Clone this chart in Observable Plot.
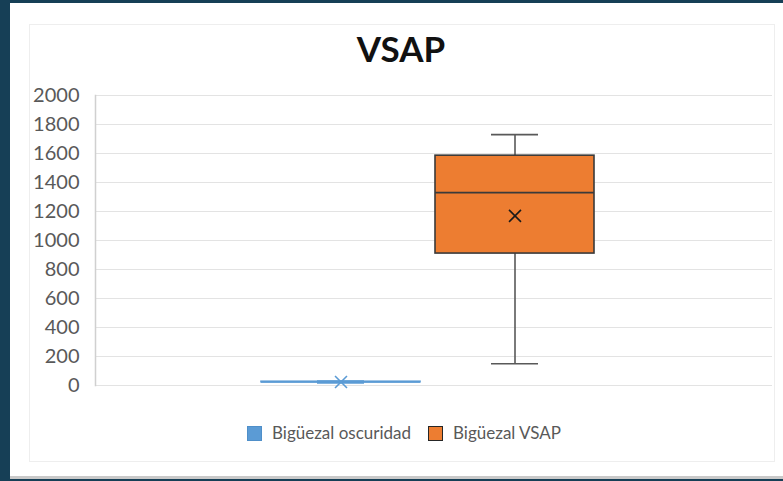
<!DOCTYPE html>
<html>
<head>
<meta charset="utf-8">
<script src="https://cdn.jsdelivr.net/npm/d3@7"></script>
<script src="https://cdn.jsdelivr.net/npm/@observablehq/plot@0.6"></script>
<style>
  html, body { margin: 0; padding: 0; }
  body { width: 783px; height: 481px; background: #163f56; position: relative; overflow: hidden; font-family: Lato, "Open Sans", sans-serif; }
  #panel { position: absolute; left: 10px; top: 3px; width: 773px; height: 473px; background: #ffffff; border-bottom: 3px solid #c9c9c9; }
  #frame { position: absolute; left: 29px; top: 24px; width: 746px; height: 438px; border: 1px solid #eeeeee; box-sizing: border-box; }
  #title { position: absolute; left: 0; width: 802px; top: 27px; text-align: center; font-size: 35px; font-weight: 700; color: #111; line-height: 1.2; }
  #chart { position: absolute; left: 0; top: 80px; }
  #legend { position: absolute; left: 247px; top: 423px; display: flex; align-items: center; font-size: 17px; color: #595959; line-height: 20px; }
  .sw { width: 15px; height: 15px; box-sizing: border-box; display: inline-block; }
</style>
</head>
<body>
<div id="panel"></div>
<div id="frame"></div>
<div id="title">VSAP</div>
<div id="chart"></div>
<div id="legend"></div>
<script>
// Data
const seriesNames = ["Bigüezal oscuridad", "Bigüezal VSAP"];
const seriesFill = ["#5B9BD5", "#ED7D31"];
const seriesStroke = ["#5B9BD5", "#3a3a3a"];
const whiskerStroke = ["#5B9BD5", "#595959"];
const meanStroke = ["#5B9BD5", "#1a1a1a"];
const minValues = [18, 150];
const q1Values = [22, 910];
const medianValues = [24, 1330];
const q3Values = [26, 1585];
const maxValues = [30, 1730];
const meanValues = [24, 1170];
const yTicks = [0, 200, 400, 600, 800, 1000, 1200, 1400, 1600, 1800, 2000];

const data = seriesNames.map((s, i) => ({
  series: s, min: minValues[i], q1: q1Values[i], median: medianValues[i],
  q3: q3Values[i], max: maxValues[i], mean: meanValues[i],
  fill: seriesFill[i], stroke: seriesStroke[i], wstroke: whiskerStroke[i], mstroke: meanStroke[i]
}));

const chart = Plot.plot({
  width: 783,
  height: 320,
  marginTop: 15,
  marginBottom: 15,
  marginLeft: 95,
  marginRight: 11,
  style: { fontFamily: "Lato, 'Open Sans', sans-serif", background: "transparent" },
  x: { type: "band", domain: seriesNames, paddingInner: 0.086, paddingOuter: 0.988, align: 0.484, axis: null },
  y: { domain: [0, 2000], axis: null },
  marks: [
    Plot.gridY(yTicks, { stroke: "#e3e3e3", strokeOpacity: 1, strokeWidth: 1 }),
    Plot.frame({ anchor: "left", stroke: "#d0d0d0", strokeWidth: 1.5 }),
    Plot.axisY(yTicks, { tickSize: 0, tickPadding: 16, fontSize: 20, color: "#595959", tickFormat: d => String(d) }),
    Plot.ruleX(data, { x: "series", y1: "q3", y2: "max", stroke: "wstroke", strokeWidth: 1.6 }),
    Plot.ruleX(data, { x: "series", y1: "min", y2: "q1", stroke: "wstroke", strokeWidth: 1.6 }),
    Plot.tickY(data, { x: "series", y: "max", stroke: "wstroke", strokeWidth: 1.6, insetLeft: 56, insetRight: 56 }),
    Plot.tickY(data, { x: "series", y: "min", stroke: "wstroke", strokeWidth: 1.6, insetLeft: 56, insetRight: 56 }),
    Plot.barY(data, { x: "series", y1: "q1", y2: "q3", fill: "fill", stroke: "stroke", strokeWidth: 1.6 }),
    Plot.tickY(data, { x: "series", y: "median", stroke: "stroke", strokeWidth: 1.6 }),
    Plot.dot(data, { x: "series", y: "mean", symbol: "times", r: 5.5, stroke: "mstroke", strokeWidth: 1.6 })
  ]
});
document.getElementById("chart").appendChild(chart);

// Legend
const legend = document.getElementById("legend");
seriesNames.forEach((s, i) => {
  const sw = document.createElement("span");
  sw.className = "sw";
  sw.style.background = seriesFill[i];
  sw.style.border = i === 0 ? "1px solid #4f8fc9" : "1.5px solid #262626";
  sw.style.marginRight = "10px";
  if (i > 0) sw.style.marginLeft = "17px";
  const t = document.createElement("span");
  t.textContent = s;
  legend.appendChild(sw);
  legend.appendChild(t);
});
</script>
</body>
</html>
